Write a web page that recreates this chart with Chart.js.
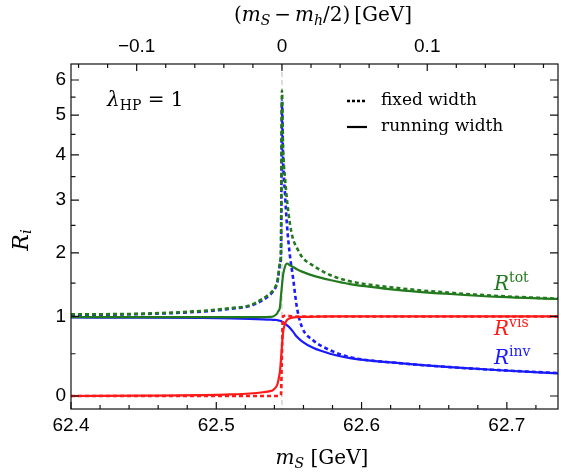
<!DOCTYPE html>
<html>
<head>
<meta charset="utf-8">
<script src="https://cdn.jsdelivr.net/npm/chart.js@4.4.1/dist/chart.umd.min.js"></script>
<style>
  html, body { margin: 0; padding: 0; background: #fff; }
  #wrap { width: 561px; height: 472px; }
</style>
</head>
<body>
<div id="wrap"><canvas id="chart"></canvas></div>
<script>
// resonance position m_h/2 (GeV)
const MH2 = 62.5452;

// m_S values (GeV)
const mS = [62.400, 62.450, 62.490, 62.510, 62.523, 62.532, 62.537, 62.539, 62.5418, 62.5425,
            62.5438, 62.5445, 62.5452, 62.5459, 62.5473, 62.5487, 62.5507, 62.5528, 62.5555, 62.5590,
            62.5666, 62.5783, 62.5920, 62.6260, 62.6610, 62.6950, 62.7352];

// R^tot
const totFixed = [1.03, 1.04, 1.08, 1.12, 1.16, 1.26, 1.34, 1.385, 1.51, 1.59,
                  1.82, 1.99, 5.69, 4.25, 3.47, 2.99, 2.53, 2.25, 2.09, 1.93,
                  1.785, 1.63, 1.53, 1.42, 1.35, 1.30, 1.26];
const totRun   = [0.99, 0.99, 0.99, 0.99, 0.99, 0.99, 0.995, 1.0, 1.04, 1.07,
                  1.13, 1.30, 1.46, 1.62, 1.77, 1.82, 1.79, 1.76, 1.725, 1.685,
                  1.62, 1.549, 1.485, 1.392, 1.331, 1.286, 1.257];
// R^inv
const invFixed = [1.02, 1.035, 1.07, 1.11, 1.15, 1.24, 1.32, 1.37, 1.49, 1.57,
                  1.80, 1.97, 5.40, 4.00, 3.13, 2.49, 1.95, 1.59, 1.13, 0.85,
                  0.674, 0.545, 0.457, 0.383, 0.334, 0.298, 0.263];
const invRun   = [0.985, 0.983, 0.978, 0.972, 0.966, 0.960, 0.955, 0.953, 0.950, 0.945,
                  0.940, 0.935, 0.925, 0.915, 0.900, 0.875, 0.840, 0.790, 0.720, 0.660,
                  0.575, 0.500, 0.445, 0.383, 0.334, 0.297, 0.260];
// R^vis
const visFixed = [0, 0, 0, 0, 0, 0, 0, 0, 0, 0,
                  0.005, 0.02, 0.5, 1.0, 1.01, 1.01, 1.005, 1.0, 1.0, 1.0,
                  1.0, 1.0, 1.0, 1.0, 1.0, 1.0, 1.0];
const visRun   = [0, 0.004, 0.01, 0.018, 0.028, 0.042, 0.055, 0.067, 0.12, 0.16,
                  0.28, 0.42, 0.60, 0.77, 0.90, 0.95, 0.975, 0.985, 0.99, 0.993,
                  0.996, 1.0, 1.0, 1.0, 1.0, 1.0, 1.0];

// ticks
const xMajor = [62.4, 62.5, 62.6, 62.7];
const xMinor = [62.42, 62.44, 62.46, 62.48, 62.52, 62.54, 62.56, 62.58, 62.62, 62.64, 62.66, 62.68, 62.72];
const topMajor = [-0.1, 0, 0.1];
const topLabels = ["\u22120.1", "0", "0.1"];
const topMinor = [-0.14, -0.12, -0.08, -0.06, -0.04, -0.02, 0.02, 0.04, 0.06, 0.08, 0.12, 0.14, 0.16, 0.18];
const yMajor = [0, 1, 2, 3, 4, 5, 6];
const yMinor = [0.5, 1.5, 2.5, 3.5, 4.5, 5.5];

const X_MIN = 62.4, X_MAX = 62.7352;
// vertical axis is compressed: plotted as log(R + 3.5)
const T = v => Math.log(v + 3.5);

const GREEN = "#237a1e", RED = "#ff1a1a", BLUE = "#1a1aff";
const SERIF = "'DejaVu Serif', 'Liberation Serif', serif";
const SANS = "'Liberation Sans', Arial, sans-serif";

function pts(ys) {
  return mS.map((x, i) => ({ x: x, y: T(ys[i]) }));
}

function line(label, ys, color, dashed) {
  return {
    label: label,
    data: pts(ys),
    borderColor: color,
    borderWidth: dashed ? 2.6 : 2.2,
    borderDash: dashed ? [4, 3] : [],
    pointRadius: 0,
    fill: false,
    cubicInterpolationMode: "monotone",
  };
}

// text made of pieces: [text, font, dy]
function richText(ctx, x, y, parts, align) {
  let w = 0;
  parts.forEach((p) => { ctx.font = p[1]; w += ctx.measureText(p[0]).width; });
  let cx = align === "center" ? x - w / 2 : x;
  ctx.textBaseline = "middle";
  ctx.textAlign = "left";
  parts.forEach((p) => {
    ctx.font = p[1];
    ctx.fillText(p[0], cx, y + (p[2] || 0));
    cx += ctx.measureText(p[0]).width;
  });
}

const decor = {
  id: "decor",
  beforeDatasetsDraw(chart) {
    // dashed marker at m_h/2
    const { ctx, chartArea: a, scales } = chart;
    const xm = scales.x.getPixelForValue(MH2);
    ctx.save();
    ctx.strokeStyle = "#c4c4c4";
    ctx.lineWidth = 1.2;
    ctx.setLineDash([5, 3]);
    ctx.beginPath();
    ctx.moveTo(xm, a.top);
    ctx.lineTo(xm, a.bottom);
    ctx.stroke();
    ctx.restore();
  },
  afterDraw(chart) {
    const { ctx, chartArea: a, scales } = chart;
    const sx = scales.x, st = scales.x2, sy = scales.y;
    ctx.save();
    ctx.strokeStyle = "#111";
    ctx.lineWidth = 1.2;
    ctx.strokeRect(a.left, a.top, a.right - a.left, a.bottom - a.top);

    // inward ticks on all four sides
    ctx.beginPath();
    const bx = (px, len) => { ctx.moveTo(px, a.bottom); ctx.lineTo(px, a.bottom - len); };
    xMajor.forEach((v) => bx(sx.getPixelForValue(v), 7));
    xMinor.forEach((v) => bx(sx.getPixelForValue(v), 4));
    const tx = (px, len) => { ctx.moveTo(px, a.top); ctx.lineTo(px, a.top + len); };
    topMajor.forEach((v) => tx(st.getPixelForValue(v), 7));
    topMinor.forEach((v) => tx(st.getPixelForValue(v), 4));
    const vy = (py, len) => {
      ctx.moveTo(a.left, py); ctx.lineTo(a.left + len, py);
      ctx.moveTo(a.right, py); ctx.lineTo(a.right - len, py);
    };
    yMajor.forEach((v) => vy(sy.getPixelForValue(T(v)), 8));
    yMinor.forEach((v) => vy(sy.getPixelForValue(T(v)), 4.5));
    ctx.stroke();

    ctx.fillStyle = "#000";
    const it = "italic 20px " + SERIF, itS = "italic 14px " + SERIF, rm = "20px " + SERIF;
    // axis titles
    richText(ctx, 322, 459, [["m", it], ["S", itS, 5], [" [GeV]", rm]], "center");
    richText(ctx, 323, 16, [
      ["(", rm], ["m", it], ["S", itS, 5], ["\u2009\u2212\u2009", rm], ["m", it], ["h", itS, 5],
      ["/2)\u2009[GeV]", rm]
    ], "center");

    // coupling label
    richText(ctx, 107, 101, [["\u03bb", "italic 20px " + SERIF], ["HP", "14px " + SERIF, 5],
      [" = 1", "20px " + SERIF]], "left");

    // legend
    ctx.strokeStyle = "#000";
    ctx.lineWidth = 2.4;
    ctx.setLineDash([3, 2]);
    ctx.beginPath(); ctx.moveTo(347, 101); ctx.lineTo(367, 101); ctx.stroke();
    ctx.setLineDash([]);
    ctx.lineWidth = 2.2;
    ctx.beginPath(); ctx.moveTo(347, 127); ctx.lineTo(367, 127); ctx.stroke();
    richText(ctx, 381, 101, [["fixed width", "17px " + SERIF]], "left");
    richText(ctx, 381, 127, [["running width", "17px " + SERIF]], "left");

    // series labels
    const lab = (sup, col, y) => {
      ctx.fillStyle = col;
      richText(ctx, 494, y, [["R", "italic 20px " + SERIF], [sup, "14px " + SERIF, -7]], "left");
    };
    lab("tot", GREEN, 285);
    lab("vis", RED, 330);
    lab("inv", BLUE, 359);
    ctx.restore();

    // y title, rotated
    ctx.save();
    ctx.fillStyle = "#000";
    ctx.translate(22, 240);
    ctx.rotate(-Math.PI / 2);
    richText(ctx, 0, 0, [["R", "italic 22px " + SERIF], ["i", "italic 15px " + SERIF, 5]], "center");
    ctx.restore();
  },
};

const tickFont = { family: SANS, size: 19 };

new Chart(document.getElementById("chart"), {
  type: "line",
  data: {
    datasets: [
      line("R tot fixed", totFixed, GREEN, true),
      line("R tot running", totRun, GREEN, false),
      line("R vis fixed", visFixed, RED, true),
      line("R vis running", visRun, RED, false),
      line("R inv fixed", invFixed, BLUE, true),
      line("R inv running", invRun, BLUE, false),
    ],
  },
  options: {
    responsive: true,
    maintainAspectRatio: false,
    animation: false,
    layout: { padding: { left: 0, right: 3, top: 0, bottom: 0 } },
    plugins: { legend: { display: false }, tooltip: { enabled: false } },
    scales: {
      x: {
        type: "linear",
        position: "bottom",
        min: X_MIN,
        max: X_MAX,
        afterBuildTicks: (s) => { s.ticks = xMajor.map((v) => ({ value: v })); },
        afterFit: (s) => { s.height = 63; },
        ticks: { callback: (v) => v.toFixed(1), font: tickFont, color: "#000", padding: 5, maxRotation: 0, autoSkip: false },
        grid: { display: false, drawTicks: false },
        border: { display: false },
      },
      x2: {
        type: "linear",
        position: "top",
        min: X_MIN - MH2,
        max: X_MAX - MH2,
        afterBuildTicks: (s) => { s.ticks = topMajor.map((v) => ({ value: v })); },
        afterFit: (s) => { s.height = 64; },
        ticks: {
          callback: (v) => topLabels[topMajor.findIndex((t) => Math.abs(t - v) < 1e-6)],
          font: tickFont, color: "#000", padding: 6, maxRotation: 0, autoSkip: false,
        },
        grid: { display: false, drawTicks: false },
        border: { display: false },
      },
      y: {
        type: "linear",
        min: 1.2117,
        max: 2.3018,
        afterBuildTicks: (s) => { s.ticks = yMajor.map((v) => ({ value: T(v) })); },
        afterFit: (s) => { s.width = 71; },
        ticks: {
          callback: (v) => String(yMajor[yMajor.findIndex((t) => Math.abs(T(t) - v) < 1e-6)]),
          font: tickFont, color: "#000", padding: 5, autoSkip: false,
        },
        grid: { display: false, drawTicks: false },
        border: { display: false },
      },
    },
  },
  plugins: [decor],
});
</script>
</body>
</html>
